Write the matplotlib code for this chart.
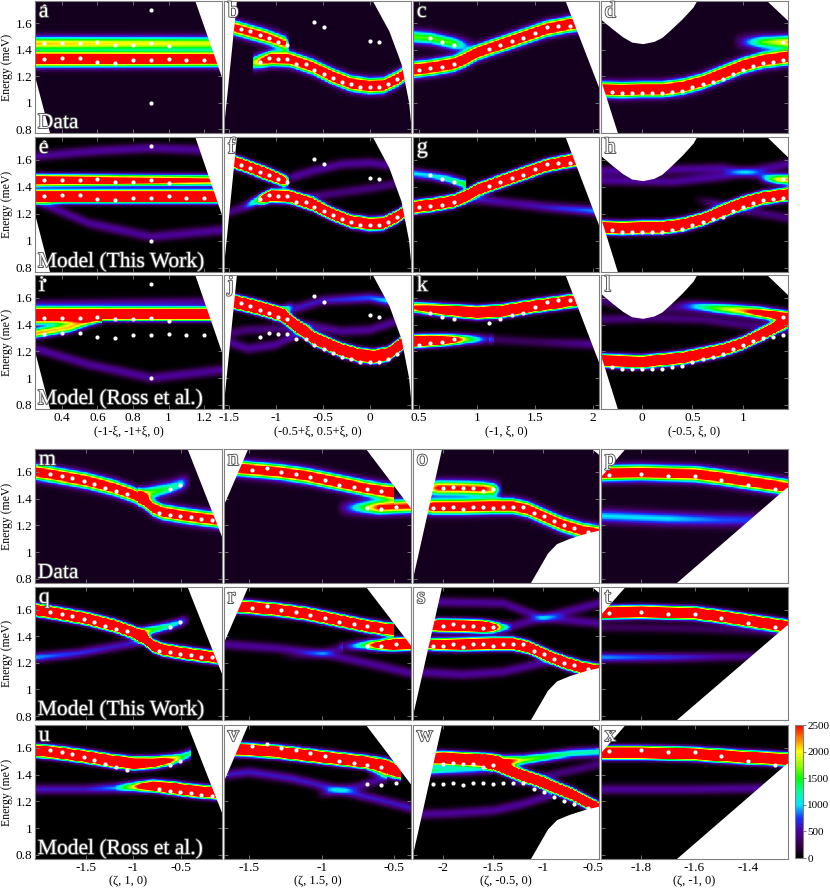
import numpy as np
import matplotlib
matplotlib.use('Agg')
import matplotlib.pyplot as plt
import matplotlib.patheffects as pe
from matplotlib.colors import LinearSegmentedColormap

plt.rcParams['font.family'] = ['Liberation Serif', 'DejaVu Serif']

# ---------------- axis ranges and labels ----------------
energy_lim = (0.77, 1.77)
energy_ticks = [0.8, 1.0, 1.2, 1.4, 1.6]

xlim_a = (0.25, 1.30)
xlim_b = (-1.55, 0.44)
xlim_c = (0.45, 2.05)
xlim_d = (-0.41, 1.45)
xlim_m = (-2.03, -0.07)
xlim_n = (-1.675, -0.385)
xlim_o = (-2.30, -0.44)
xlim_p = (-1.95, -1.25)

xticks_a = [0.4, 0.6, 0.8, 1.0, 1.2]
xticks_b = [-1.5, -1.0, -0.5, 0.0]
xticks_c = [0.5, 1.0, 1.5, 2.0]
xticks_d = [0.0, 0.5, 1.0]
xticks_m = [-1.5, -1.0, -0.5]
xticks_n = [-1.5, -1.0, -0.5]
xticks_o = [-2.0, -1.5, -1.0, -0.5]
xticks_p = [-1.8, -1.6, -1.4]

xlabel_a = '(-1-ξ, -1+ξ, 0)'
xlabel_b = '(-0.5+ξ, 0.5+ξ, 0)'
xlabel_c = '(-1, ξ, 0)'
xlabel_d = '(-0.5, ξ, 0)'
xlabel_m = '(ζ, 1, 0)'
xlabel_n = '(ζ, 1.5, 0)'
xlabel_o = '(ζ, -0.5, 0)'
xlabel_p = '(ζ, -1, 0)'

row_names = ['Data', 'Model (This Work)', 'Model (Ross et al.)']

# ---------------- fitted mode energies (white dots) ----------------
dots_a_x = [0.3, 0.4, 0.5, 0.6, 0.7, 0.8, 0.9, 1.0,
            0.3, 0.4, 0.5, 0.6, 0.7, 0.8, 0.9, 1.0, 1.1, 1.2, 0.9, 0.9, 0.3]
dots_a_e = [1.45, 1.45, 1.45, 1.46, 1.44, 1.44, 1.45, 1.43,
            1.33, 1.34, 1.34, 1.31, 1.30, 1.32, 1.32, 1.33, 1.32, 1.32, 1.70, 1.00, 1.73]

dots_b_x = [-1.37, -1.27, -1.17, -1.07, -0.98, -0.88,
            -1.17, -1.07, -0.98, -0.88, -0.78, -0.68, -0.59, -0.49, -0.39, -0.29, -0.20, -0.10,
            0.0, 0.10, 0.20, 0.29, -0.59, -0.49, 0.0, 0.10]
dots_b_e = [1.56, 1.54, 1.51, 1.49, 1.46, 1.44,
            1.31, 1.34, 1.33, 1.33, 1.29, 1.29, 1.25, 1.22, 1.19, 1.16, 1.14, 1.12,
            1.12, 1.12, 1.14, 1.18, 1.61, 1.57, 1.47, 1.46]

dots_c_x = [0.6, 0.7, 0.8, 1.1, 1.2, 1.3, 1.4, 1.5, 1.6, 1.7, 1.8, 0.5, 0.6, 0.7, 0.8]
dots_c_e = [1.49, 1.46, 1.44, 1.41, 1.44, 1.47, 1.49, 1.53, 1.57, 1.58, 1.58, 1.25, 1.26, 1.27, 1.29]

dots_d_x = [-0.3, -0.2, -0.1, 0.0, 0.1, 0.2, 0.3, 0.4, 0.5, 0.6, 0.7, 0.8, 0.9, 1.0, 1.1, 1.2,
            1.3, 1.4, 1.4]
dots_d_e = [1.08, 1.07, 1.07, 1.07, 1.07, 1.07, 1.08, 1.09, 1.12, 1.14, 1.16, 1.18, 1.22, 1.25,
            1.28, 1.30, 1.31, 1.32, 1.46]

dots_m_x = [-1.87, -1.75, -1.64, -1.52, -1.41, -1.30, -1.18, -1.07, -0.62, -0.51,
            -0.73, -0.62, -0.51, -0.40, -0.29, -0.18]
dots_m_e = [1.585, 1.57, 1.55, 1.53, 1.51, 1.48, 1.456, 1.436, 1.47, 1.505,
            1.29, 1.28, 1.27, 1.26, 1.245, 1.24]

dots_n_x = [-1.48, -1.38, -1.28, -1.18, -1.08, -0.98, -0.88, -0.78, -0.69, -0.59,
            -0.69, -0.59, -0.49]
dots_n_e = [1.61, 1.63, 1.60, 1.585, 1.56, 1.535, 1.505, 1.49, 1.475, 1.455,
            1.33, 1.325, 1.34]

dots_o_x = [-2.0, -1.9, -1.8, -1.7, -1.6, -1.5,
            -2.1, -2.0, -1.9, -1.8, -1.7, -1.6, -1.5, -1.4, -1.3, -1.2, -1.09, -0.99, -0.89,
            -0.79, -0.69, -0.55]
dots_o_e = [1.48, 1.49, 1.48, 1.48, 1.46, 1.47,
            1.33, 1.33, 1.34, 1.32, 1.34, 1.34, 1.33, 1.34, 1.34, 1.34, 1.29, 1.27, 1.23,
            1.20, 1.18, 1.15]

dots_p_x = [-1.92, -1.8, -1.7, -1.6, -1.5, -1.4, -1.3]
dots_p_e = [1.575, 1.58, 1.57, 1.57, 1.54, 1.50, 1.47]

# ---------------- mode branches: (Q points, energy, peak intensity) ----------------
br_a = [([0.25, 1.3], [1.45, 1.45], [2000, 1800]),
        ([0.25, 1.3], [1.33, 1.33], [4000, 3500])]
br_e = [([0.25, 0.7, 1.0, 1.3], [1.45, 1.45, 1.45, 1.45], [4500, 3500, 3000, 2500]),
        ([0.25, 1.3], [1.33, 1.33], [7000, 7000]),
        ([0.25, 0.6, 0.9, 1.3], [1.63, 1.67, 1.69, 1.67], [500, 500, 500, 500]),
        ([0.25, 0.55, 0.9, 1.3], [1.30, 1.13, 1.03, 1.08], [500, 500, 500, 500])]
br_i = [([0.25, 1.3], [1.48, 1.48], [7000, 7000]),
        ([0.25, 0.45, 0.62], [1.43, 1.44, 1.465], [1500, 1500, 800]),
        ([0.25, 0.45, 0.62], [1.335, 1.38, 1.45], [2200, 2000, 1000]),
        ([0.25, 1.3], [1.55, 1.57], [500, 500]),
        ([0.25, 0.55, 0.9, 1.3], [1.22, 1.10, 1.00, 1.06], [500, 500, 500, 500])]

br_b = [([-1.45, -1.1, -0.9, -0.85], [1.57, 1.50, 1.45, 1.44], [3000, 3000, 2500, 0]),
        ([-1.25, -1.05, -0.85, -0.6, -0.4, -0.2, 0.0, 0.15, 0.3, 0.44],
         [1.30, 1.335, 1.33, 1.27, 1.20, 1.145, 1.125, 1.13, 1.18, 1.25],
         [1500, 3500, 3500, 3500, 4000, 4000, 4000, 4000, 4000, 3500])]
br_f = [([-1.55, -1.35, -1.1, -0.92, -0.85], [1.61, 1.565, 1.50, 1.45, 1.44], [7000, 7000, 7000, 4500, 0]),
        ([-1.55, -1.35, -1.2, -1.05, -0.85, -0.6, -0.4, -0.2, 0.0, 0.15, 0.3, 0.44],
         [1.20, 1.25, 1.30, 1.335, 1.33, 1.27, 1.20, 1.145, 1.125, 1.13, 1.18, 1.25],
         [400, 500, 1500, 7000, 7000, 7000, 7000, 7000, 7000, 7000, 7000, 7000]),
        ([-0.95, -0.8, -0.6, -0.3, 0.0, 0.35], [1.44, 1.48, 1.52, 1.57, 1.58, 1.55], [0, 500, 500, 500, 500, 500]),
        ([-0.9, -0.8, -0.4, 0.0, 0.4], [1.30, 1.31, 1.35, 1.39, 1.44], [0, 400, 400, 400, 400])]
br_j = [([-1.55, -1.2, -0.95, -0.85, -0.6, -0.3, -0.1, 0.05, 0.2, 0.35, 0.44],
         [1.59, 1.53, 1.48, 1.43, 1.30, 1.21, 1.17, 1.16, 1.18, 1.26, 1.32],
         [10000, 10000, 10000, 10000, 10000, 10000, 10000, 10000, 10000, 10000, 10000]),
        ([-1.05, -0.92, -0.8], [1.45, 1.50, 1.55], [0, 1500, 0]),
        ([-0.95, -0.8, -0.5, 0.0, 0.35], [1.49, 1.52, 1.58, 1.60, 1.56], [0, 600, 600, 800, 1200]),
        ([-1.55, -1.3, -1.0, -0.7, -0.6], [1.28, 1.22, 1.25, 1.35, 1.38], [500, 500, 500, 500, 0]),
        ([-1.55, -1.3, -1.0, -0.7, -0.6], [1.33, 1.36, 1.37, 1.36, 1.36], [400, 400, 400, 400, 0]),
        ([-0.8, -0.7, -0.3, 0.0, 0.35], [1.41, 1.40, 1.35, 1.36, 1.44], [0, 500, 500, 500, 500])]

br_c = [([0.45, 0.6, 0.8, 0.9, 1.0, 1.2, 1.4, 1.6, 1.8, 1.95],
         [1.25, 1.265, 1.295, 1.33, 1.38, 1.44, 1.50, 1.56, 1.595, 1.61],
         [4000, 4000, 4000, 4000, 4000, 4000, 4000, 4000, 4000, 4000]),
        ([0.45, 0.6, 0.8, 1.0], [1.50, 1.49, 1.45, 1.42], [1500, 1500, 1500, 0])]
br_g = [([0.45, 0.6, 0.8, 0.9, 1.0, 1.2, 1.4, 1.6, 1.8, 1.95],
         [1.25, 1.265, 1.295, 1.33, 1.38, 1.44, 1.50, 1.56, 1.595, 1.61],
         [7000, 7000, 7000, 7000, 7000, 7000, 7000, 7000, 7000, 7000]),
        ([0.45, 0.6, 0.75, 0.9], [1.50, 1.485, 1.46, 1.42], [1000, 1000, 1200, 1500]),
        ([0.85, 1.0, 1.3, 1.6, 2.05], [1.31, 1.31, 1.28, 1.25, 1.22], [600, 600, 500, 600, 900])]
br_k = [([0.45, 0.7, 1.0, 1.2, 1.5, 1.8, 1.95], [1.53, 1.51, 1.49, 1.50, 1.54, 1.575, 1.59],
         [2500, 4500, 7000, 7000, 7000, 7000, 7000]),
        ([0.45, 0.6, 0.75, 0.9, 1.05, 1.15], [1.275, 1.28, 1.285, 1.29, 1.29, 1.29],
         [7000, 6000, 4000, 1800, 800, 300]),
        ([1.1, 1.5, 2.05], [1.29, 1.27, 1.25], [300, 300, 500])]

br_d = [([-0.41, -0.2, 0.0, 0.2, 0.4, 0.6, 0.8, 1.0, 1.2, 1.45],
         [1.10, 1.095, 1.10, 1.10, 1.12, 1.16, 1.22, 1.28, 1.32, 1.345],
         [4000, 4000, 4000, 4000, 4000, 4000, 4000, 4000, 4000, 4000]),
        ([0.9, 1.2, 1.45], [1.46, 1.46, 1.46], [0, 1500, 2000])]
br_h = [([-0.41, -0.2, 0.0, 0.2, 0.4, 0.6, 0.8, 1.0, 1.2, 1.45],
         [1.10, 1.095, 1.10, 1.10, 1.12, 1.16, 1.22, 1.28, 1.32, 1.345],
         [7000, 7000, 7000, 7000, 7000, 7000, 7000, 7000, 7000, 7000]),
        ([-0.41, 0.3, 0.8, 1.1, 1.45], [1.45, 1.44, 1.48, 1.52, 1.57], [500, 500, 500, 500, 500]),
        ([-0.41, 0.3, 0.8, 1.1, 1.45], [1.52, 1.53, 1.54, 1.50, 1.44], [500, 500, 500, 500, 500]),
        ([0.5, 0.7, 1.0, 1.45], [1.31, 1.28, 1.23, 1.17], [0, 400, 400, 400]),
        ([1.15, 1.35, 1.45], [1.46, 1.46, 1.46], [0, 1500, 1800])]
br_l = [([-0.41, 0.0, 0.4, 0.8, 1.0, 1.2, 1.45], [1.13, 1.12, 1.15, 1.21, 1.26, 1.33, 1.43],
         [7000, 7000, 7000, 7000, 7000, 7000, 7000]),
        ([0.3, 0.7, 1.0, 1.2, 1.45], [1.56, 1.53, 1.51, 1.49, 1.46], [0, 1200, 2000, 3000, 4000]),
        ([-0.41, 0.1, 0.6, 1.0, 1.45], [1.44, 1.45, 1.44, 1.40, 1.36], [400, 400, 400, 400, 400]),
        ([-0.41, 0.0, 0.6, 1.0, 1.45], [1.58, 1.53, 1.52, 1.48, 1.44], [400, 400, 400, 400, 400])]

br_m = [([-2.03, -1.85, -1.5, -1.2, -1.0, -0.9, -0.8, -0.7, -0.5, -0.3, -0.07],
         [1.60, 1.58, 1.535, 1.48, 1.43, 1.39, 1.33, 1.30, 1.275, 1.255, 1.235],
         [3500, 3500, 3500, 3500, 3500, 3500, 3500, 3500, 3500, 3500, 3500]),
        ([-0.95, -0.8, -0.62, -0.5, -0.4], [1.42, 1.45, 1.48, 1.51, 1.53], [2000, 1500, 1200, 1000, 0])]
br_q = [([-2.03, -1.85, -1.5, -1.2, -1.0, -0.9, -0.8, -0.7, -0.5, -0.3, -0.07],
         [1.60, 1.58, 1.535, 1.48, 1.43, 1.39, 1.33, 1.30, 1.275, 1.255, 1.235],
         [7000, 7000, 7000, 7000, 7000, 7000, 7000, 7000, 7000, 7000, 7000]),
        ([-0.95, -0.8, -0.62, -0.5, -0.4], [1.42, 1.45, 1.48, 1.51, 1.53], [2500, 1500, 1200, 900, 0]),
        ([-2.03, -1.6, -1.3, -1.0, -0.9], [1.24, 1.27, 1.31, 1.35, 1.37], [900, 700, 600, 600, 600])]
br_u = [([-2.03, -1.8, -1.5, -1.2, -1.0, -0.8, -0.6, -0.5, -0.4],
         [1.58, 1.565, 1.535, 1.50, 1.485, 1.49, 1.51, 1.53, 1.56],
         [7000, 7000, 7000, 7000, 7000, 5000, 2500, 1500, 1200]),
        ([-2.03, -1.5, -1.2, -1.0, -0.8, -0.6, -0.4, -0.07],
         [1.29, 1.29, 1.30, 1.31, 1.315, 1.30, 1.28, 1.26],
         [600, 600, 900, 2000, 5000, 7000, 7000, 7000])]

br_n = [([-1.675, -1.5, -1.3, -1.1, -0.9, -0.7, -0.55, -0.5],
         [1.635, 1.62, 1.60, 1.57, 1.525, 1.48, 1.455, 1.45],
         [3500, 3500, 3500, 3500, 3500, 3500, 3500, 3500]),
        ([-0.9, -0.7, -0.6, -0.5, -0.385], [1.33, 1.335, 1.335, 1.34, 1.345], [0, 1500, 2500, 2500, 2500])]
br_r = [([-1.675, -1.5, -1.3, -1.1, -0.9, -0.7, -0.55, -0.5],
         [1.635, 1.62, 1.60, 1.57, 1.525, 1.48, 1.455, 1.45],
         [7000, 7000, 7000, 7000, 7000, 7000, 7000, 7000]),
        ([-0.9, -0.7, -0.6, -0.5, -0.385], [1.32, 1.335, 1.335, 1.34, 1.345], [0, 1500, 3500, 7000, 7000]),
        ([-1.675, -1.3, -1.0, -0.7, -0.385], [1.34, 1.31, 1.27, 1.20, 1.12], [500, 500, 500, 500, 500]),
        ([-1.3, -1.0, -0.85], [1.24, 1.27, 1.32], [0, 400, 400])]
br_v = [([-1.675, -1.5, -1.3, -1.1, -0.9, -0.7, -0.55, -0.45],
         [1.59, 1.585, 1.57, 1.545, 1.52, 1.495, 1.47, 1.43],
         [7000, 7000, 7000, 7000, 7000, 7000, 7000, 3000]),
        ([-0.7, -0.5, -0.45], [1.44, 1.41, 1.40], [0, 2500, 2500]),
        ([-1.675, -1.5, -1.2, -0.9, -0.6, -0.385], [1.40, 1.42, 1.37, 1.29, 1.21, 1.15], [600, 600, 600, 600, 600, 600]),
        ([-1.05, -0.95, -0.75, -0.55], [1.25, 1.27, 1.31, 1.38], [0, 500, 500, 500])]

br_o = [([-2.17, -2.05, -1.8, -1.6, -1.5, -1.4], [1.48, 1.482, 1.48, 1.475, 1.47, 1.47],
         [1500, 2500, 2500, 2500, 2000, 0]),
        ([-2.22, -2.1, -1.8, -1.5, -1.3, -1.15, -1.0, -0.8, -0.6, -0.44],
         [1.34, 1.34, 1.34, 1.345, 1.345, 1.32, 1.27, 1.205, 1.16, 1.14],
         [1500, 3500, 3500, 3500, 3500, 3500, 3500, 3500, 3500, 3500])]
br_s = [([-2.17, -2.05, -1.8, -1.6, -1.5, -1.42, -1.3], [1.48, 1.482, 1.48, 1.475, 1.47, 1.47, 1.47],
         [2500, 7000, 7000, 7000, 4000, 1500, 0]),
        ([-2.22, -2.1, -1.8, -1.5, -1.3, -1.15, -1.0, -0.8, -0.6, -0.44],
         [1.34, 1.34, 1.34, 1.345, 1.345, 1.32, 1.27, 1.205, 1.16, 1.14],
         [1500, 5000, 7000, 7000, 7000, 7000, 7000, 7000, 7000, 7000]),
        ([-2.1, -1.4, -1.0, -0.44], [1.66, 1.65, 1.54, 1.50], [500, 500, 500, 500]),
        ([-1.45, -1.3, -1.0, -0.44], [1.45, 1.48, 1.54, 1.65], [0, 500, 500, 500]),
        ([-2.3, -1.8, -1.4, -1.0, -0.8], [1.13, 1.11, 1.13, 1.20, 1.24], [500, 500, 500, 500, 500])]
br_w = [([-2.25, -2.0, -1.7, -1.5, -1.4, -1.2, -1.0, -0.7, -0.44],
         [1.52, 1.525, 1.515, 1.505, 1.50, 1.51, 1.53, 1.56, 1.57],
         [5000, 7000, 7000, 7000, 3000, 1800, 1500, 1200, 1200]),
        ([-1.6, -1.45, -1.3, -1.1, -0.9, -0.7, -0.5, -0.44],
         [1.50, 1.465, 1.42, 1.37, 1.31, 1.25, 1.17, 1.15],
         [2000, 6000, 7000, 7000, 7000, 7000, 7000, 7000]),
        ([-2.25, -2.0, -1.7, -1.5], [1.43, 1.435, 1.44, 1.45], [1500, 1200, 1000, 800]),
        ([-2.3, -1.9, -1.5, -1.2, -0.9], [1.10, 1.11, 1.13, 1.18, 1.25], [500, 500, 500, 500, 500]),
        ([-1.35, -1.2, -0.9, -0.6, -0.44], [1.33, 1.35, 1.40, 1.45, 1.48], [0, 400, 400, 400, 400])]

br_p = [([-1.95, -1.8, -1.6, -1.5, -1.4, -1.3, -1.25], [1.59, 1.595, 1.585, 1.56, 1.53, 1.50, 1.485],
         [3500, 3500, 3500, 3500, 3500, 3500, 3500]),
        ([-1.95, -1.7, -1.5, -1.3], [1.27, 1.25, 1.24, 1.24], [900, 900, 700, 600])]
br_t = [([-1.95, -1.8, -1.6, -1.5, -1.4, -1.3, -1.25], [1.58, 1.585, 1.575, 1.55, 1.52, 1.49, 1.475],
         [7000, 7000, 7000, 7000, 7000, 7000, 7000]),
        ([-1.95, -1.7, -1.5, -1.3], [1.24, 1.24, 1.245, 1.25], [900, 700, 500, 400]),
        ([-1.95, -1.6, -1.25], [1.47, 1.46, 1.43], [300, 300, 300])]
br_x = [([-1.95, -1.8, -1.6, -1.4, -1.25], [1.565, 1.565, 1.555, 1.53, 1.515], [7000, 7000, 7000, 7000, 7000]),
        ([-1.95, -1.6, -1.3], [1.29, 1.29, 1.30], [500, 500, 500])]

# ---------------- regions outside the measured range (white) ----------------
mask_a = [([1.142, 1.45, 1.45, 1.35], [1.80, 1.80, 0.74, 1.0]),
          ([0.2, 0.25, 0.34, 0.2], [1.20, 1.20, 0.74, 0.74])]
mask_b = [([-1.6, -1.408, -1.56, -1.6], [1.80, 1.80, 0.74, 0.74]),
          ([0.01, 0.21, 0.34, 0.42, 0.44, 0.445, 0.5, 0.5], [1.80, 1.54, 1.29, 1.0, 0.85, 0.74, 0.74, 1.80])]
mask_c = [([1.747, 2.2, 2.2, 2.10], [1.80, 1.80, 1.0, 1.0])]
mask_d = [([-0.5, -0.41, -0.3, -0.19, -0.1, 0.01, 0.12, 0.2, 0.28, 0.4, 0.51, 0.57, -0.5],
           [1.63, 1.63, 1.56, 1.495, 1.455, 1.443, 1.46, 1.49, 1.544, 1.63, 1.72, 1.80, 1.80]),
          ([1.2, 1.45, 1.5, 1.5], [1.80, 1.62, 1.62, 1.80]),
          ([-0.5, -0.41, -0.23, -0.5], [1.17, 1.17, 0.74, 0.74])]
mask_m = [([-0.45, 0.0, 0.0, -0.01], [1.80, 1.80, 1.0, 1.0])]
mask_n = [([-1.75, -1.496, -1.675, -1.75], [1.80, 1.80, 1.35, 1.35]),
          ([-0.715, -0.3, -0.3, -0.33], [1.80, 1.80, 1.25, 1.25])]
mask_o = [([-2.4, -2.0, -2.318, -2.4], [1.80, 1.80, 0.74, 0.74]),
          ([-0.56, -0.40, -0.40], [1.80, 1.80, 1.70]),
          ([-1.12, -1.12, -0.95, -0.86, -0.73, -0.56, -0.44, -0.40, -0.40],
           [0.74, 0.77, 0.99, 1.06, 1.10, 1.14, 1.16, 1.16, 0.74])]
mask_p = [([-1.683, -1.254, -1.2, -1.2], [0.74, 1.48, 1.48, 0.74]),
          ([-2.0, -1.845, -1.95, -2.0], [1.80, 1.80, 1.56, 1.56])]

background_data = 100
width_data = 0.035
width_model = 0.026

columns = [
    dict(xlim=xlim_a, ticks=xticks_a, xlabel=xlabel_a, dx=dots_a_x, de=dots_a_e,
         panels=[br_a, br_e, br_i], letters='aei', masks=mask_a, block=0, col=0),
    dict(xlim=xlim_b, ticks=xticks_b, xlabel=xlabel_b, dx=dots_b_x, de=dots_b_e,
         panels=[br_b, br_f, br_j], letters='bfj', masks=mask_b, block=0, col=1),
    dict(xlim=xlim_c, ticks=xticks_c, xlabel=xlabel_c, dx=dots_c_x, de=dots_c_e,
         panels=[br_c, br_g, br_k], letters='cgk', masks=mask_c, block=0, col=2),
    dict(xlim=xlim_d, ticks=xticks_d, xlabel=xlabel_d, dx=dots_d_x, de=dots_d_e,
         panels=[br_d, br_h, br_l], letters='dhl', masks=mask_d, block=0, col=3),
    dict(xlim=xlim_m, ticks=xticks_m, xlabel=xlabel_m, dx=dots_m_x, de=dots_m_e,
         panels=[br_m, br_q, br_u], letters='mqu', masks=mask_m, block=1, col=0),
    dict(xlim=xlim_n, ticks=xticks_n, xlabel=xlabel_n, dx=dots_n_x, de=dots_n_e,
         panels=[br_n, br_r, br_v], letters='nrv', masks=mask_n, block=1, col=1),
    dict(xlim=xlim_o, ticks=xticks_o, xlabel=xlabel_o, dx=dots_o_x, de=dots_o_e,
         panels=[br_o, br_s, br_w], letters='osw', masks=mask_o, block=1, col=2),
    dict(xlim=xlim_p, ticks=xticks_p, xlabel=xlabel_p, dx=dots_p_x, de=dots_p_e,
         panels=[br_p, br_t, br_x], letters='ptx', masks=mask_p, block=1, col=3),
]

cmap = LinearSegmentedColormap.from_list('ns', [
    (0.0, (0, 0, 0)), (0.1, (0.2, 0.0, 0.3)), (0.2, (0.3, 0.0, 0.6)),
    (0.3, (0.1, 0.2, 1.0)), (0.4, (0.0, 0.9, 1.0)), (0.5, (0.0, 1.0, 0.6)),
    (0.6, (0.0, 1.0, 0.0)), (0.7, (0.6, 1.0, 0.0)), (0.8, (1.0, 1.0, 0.0)),
    (0.9, (1.0, 0.5, 0.0)), (1.0, (1.0, 0.0, 0.0))])


def render(branches, xlim, sigma, bg):
    q = np.linspace(xlim[0], xlim[1], 240)
    e = np.linspace(energy_lim[0], energy_lim[1], 200)
    Q, E = np.meshgrid(q, e)
    img = np.full(Q.shape, float(bg))
    for qs, es, amps in branches:
        centre = np.interp(q, qs, es)
        amp = np.interp(q, qs, amps, left=0, right=0)
        img += amp * np.exp(-0.5 * ((E - centre) / sigma) ** 2)
    return img


def fmt(v):
    return '%g' % v


W, H = 830, 896
fig = plt.figure(figsize=(W / 100, H / 100), dpi=100)

col_px = [(35, 222), (224, 411), (413, 599), (601, 788)]
row_px = [[(1, 133), (137, 272), (275, 409)], [(449, 583), (587, 720), (725, 859)]]
grey = '#808080'
outline = [pe.withStroke(linewidth=1.3, foreground='#505050')]

im = None
for c in columns:
    x0, x1 = col_px[c['col']]
    for r in range(3):
        y0, y1 = row_px[c['block']][r]
        ax = fig.add_axes([x0 / W, 1 - y1 / H, (x1 - x0) / W, (y1 - y0) / H])
        sigma = width_data if r == 0 else width_model
        bg = background_data if r == 0 else 0
        img = render(c['panels'][r], c['xlim'], sigma, bg)
        im = ax.imshow(img, origin='lower', aspect='auto', cmap=cmap, vmin=0, vmax=2500,
                       extent=[c['xlim'][0], c['xlim'][1], energy_lim[0], energy_lim[1]],
                       interpolation='nearest')
        for mx, me in c['masks']:
            ax.fill(mx, me, color='white', lw=0, zorder=2)
        ax.plot(c['dx'], c['de'], 'o', color='white', ms=3, mec='none', zorder=3)
        ax.set_xlim(c['xlim'])
        ax.set_ylim(energy_lim)
        for s in ax.spines.values():
            s.set_color(grey)
            s.set_linewidth(0.8)
        ax.tick_params(direction='in', length=3, width=0.6, color=grey, top=True, right=True,
                       labelsize=9.5, pad=2)
        ax.set_xticks(c['ticks'], [fmt(t) for t in c['ticks']])
        ax.set_yticks(energy_ticks, [fmt(t) for t in energy_ticks])
        if c['col'] == 0:
            ax.set_ylabel('Energy (meV)', fontsize=8.5, labelpad=2)
            ax.text(0.015, 0.0, row_names[r], transform=ax.transAxes, color='white',
                    fontsize=15.5, va='bottom', ha='left', zorder=5, path_effects=outline)
        else:
            ax.tick_params(labelleft=False)
        if r == 2:
            ax.set_xlabel(c['xlabel'], fontsize=9, labelpad=1)
        else:
            ax.tick_params(labelbottom=False)
        ax.text(0.02, 0.985, c['letters'][r], transform=ax.transAxes, color='white',
                fontsize=16, va='top', ha='left', zorder=5, path_effects=outline)

cax = fig.add_axes([795 / W, 1 - 858 / H, 8 / W, 133 / H])
cb = fig.colorbar(im, cax=cax, ticks=[0, 500, 1000, 1500, 2000, 2500])
cb.ax.tick_params(labelsize=8, length=2, color=grey, pad=1)
cb.outline.set_edgecolor(grey)

fig.savefig('out.png', dpi=100)
